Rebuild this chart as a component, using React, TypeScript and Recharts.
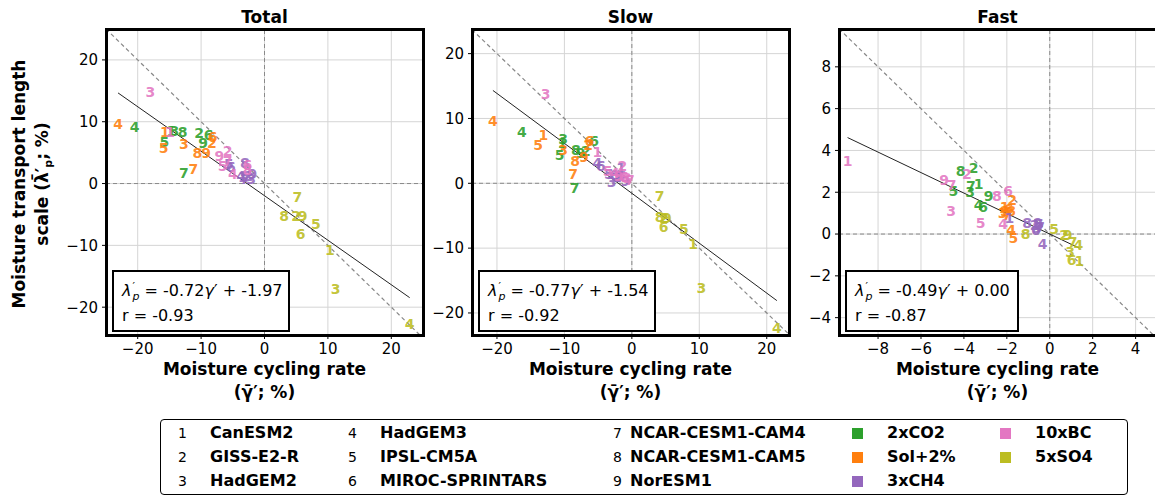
import React from 'react';
import { ScatterChart, Scatter, XAxis, YAxis, CartesianGrid, ReferenceLine } from 'recharts';

type Pt = [number, number];

const models = [
  'CanESM2', 'GISS-E2-R', 'HadGEM2',
  'HadGEM3', 'IPSL-CM5A', 'MIROC-SPRINTARS',
  'NCAR-CESM1-CAM4', 'NCAR-CESM1-CAM5', 'NorESM1',
];

const scenarios = [
  { key: 'co2', name: '2xCO2', color: '#2ca02c' },
  { key: 'sol', name: 'Sol+2%', color: '#ff7f0e' },
  { key: 'ch4', name: '3xCH4', color: '#9467bd' },
  { key: 'bc', name: '10xBC', color: '#e377c2' },
  { key: 'so4', name: '5xSO4', color: '#bcbd22' },
];

// Total: (moisture cycling rate %, transport length %) per model 1..9
const totalCO2: Pt[] = [[-14.7, 8.5], [-10.3, 8.2], [-14.2, 8.5], [-20.5, 9.2], [-15.8, 6.7], [-8.8, 7.9], [-12.7, 1.7], [-12.9, 8.4], [-9.7, 6.6]];
const totalSol: Pt[] = [[-15.7, 8.4], [-8.3, 6.6], [-12.7, 6.4], [-23.1, 9.7], [-15.9, 5.8], [-8.2, 7.6], [-11.2, 2.3], [-10.6, 4.9], [-9.2, 5.0]];
const totalCH4: Pt[] = [[-3.4, 1.0], [-2.6, 1.3], [-2.1, 0.8], [-3.7, 1.3], [-5.6, 3.2], [-5.3, 2.6], [-3.1, 0.7], [-3.1, 3.3], [-1.9, 1.5]];
const totalBC: Pt[] = [[-14.9, 8.3], [-5.8, 5.3], [-18.0, 14.8], [-5.0, 1.6], [-6.6, 2.8], [-2.7, 3.0], [-5.8, 3.6], [-2.7, 2.2], [-7.1, 4.4]];
const totalSO4: Pt[] = [[10.3, -10.7], [5.0, -5.3], [11.2, -17.0], [22.9, -22.8], [8.1, -6.5], [5.7, -8.1], [5.2, -2.1], [3.1, -5.3], [6.0, -5.3]];

const slowCO2: Pt[] = [[-10.3, 6.2], [-6.8, 5.0], [-10.2, 6.8], [-16.3, 7.9], [-10.7, 4.4], [-5.6, 6.5], [-8.5, -0.7], [-8.3, 5.1], [-7.6, 4.6]];
const slowSol: Pt[] = [[-13.1, 7.4], [-6.5, 5.9], [-10.2, 5.2], [-20.6, 9.6], [-13.9, 5.9], [-6.3, 6.6], [-8.7, 1.5], [-8.4, 3.4], [-7.1, 4.0]];
const slowCH4: Pt[] = [[-1.6, 2.4], [-2.2, 1.0], [-3.0, 0.2], [-5.1, 3.2], [-3.4, 1.5], [-4.6, 2.7], [-1.8, 0.9], [-2.5, 1.3], [-1.0, 0.4]];
const slowBC: Pt[] = [[-5.1, 4.8], [-1.4, 2.7], [-12.8, 13.8], [-2.5, 1.6], [-3.6, 1.9], [-1.2, 0.9], [-0.3, 0.5], [-0.8, 0.8], [-2.0, 1.2]];
const slowSO4: Pt[] = [[9.1, -9.3], [4.8, -5.3], [10.3, -16.2], [21.5, -22.3], [7.7, -7.0], [4.7, -6.8], [4.1, -1.9], [4.1, -5.2], [5.2, -5.4]];

const fastCO2: Pt[] = [[-3.32, 2.4], [-3.55, 3.16], [-3.71, 2.03], [-3.32, 1.39], [-4.49, 2.08], [-3.11, 1.31], [-3.68, 2.28], [-4.15, 3.04], [-2.85, 1.83]];
const fastSol: Pt[] = [[-2.1, 1.3], [-1.75, 1.63], [-2.2, 1.0], [-1.8, 0.19], [-1.7, -0.21], [-1.9, 1.2], [-2.0, 0.9], [-1.8, 1.1], [-2.1, 1.1]];
const fastCH4: Pt[] = [[-1.88, 0.79], [-0.7, 0.45], [-0.6, 0.3], [-0.33, -0.48], [-0.5, 0.5], [-0.65, 0.2], [-0.45, 0.35], [-1.05, 0.55], [-0.55, 0.55]];
const fastBC: Pt[] = [[-9.42, 3.48], [-3.86, 2.88], [-4.6, 1.1], [-2.17, 0.46], [-3.22, 0.51], [-1.94, 2.07], [-4.57, 2.36], [-2.46, 1.8], [-4.92, 2.6]];
const fastSO4: Pt[] = [[1.38, -1.28], [0.67, -0.05], [0.95, -0.85], [1.33, -0.53], [0.2, 0.22], [1.02, -1.25], [1.06, -0.4], [-1.13, -0.02], [0.83, -0.05]];

const bigTicks = [-20, -10, 0, 10, 20];
const fastXTicks = [-8, -6, -4, -2, 0, 2, 4];
const fastYTicks = [-4, -2, 0, 2, 4, 6, 8];

const panels = [
  {
    title: 'Total', left: 106, xDomain: [-25, 25], yDomain: [-24.5, 25], xTicks: bigTicks, yTicks: bigTicks,
    series: { co2: totalCO2, sol: totalSol, ch4: totalCH4, bc: totalBC, so4: totalSO4 } as Record<string, Pt[]>,
    slope: -0.72, intercept: -1.97, r: -0.93, boxW: 178,
  },
  {
    title: 'Slow', left: 472, xDomain: [-23.7, 23.3], yDomain: [-23.4, 23.8], xTicks: bigTicks, yTicks: bigTicks,
    series: { co2: slowCO2, sol: slowSol, ch4: slowCH4, bc: slowBC, so4: slowSO4 } as Record<string, Pt[]>,
    slope: -0.77, intercept: -1.54, r: -0.92, boxW: 178,
  },
  {
    title: 'Fast', left: 839, xDomain: [-9.82, 4.95], yDomain: [-4.83, 9.81], xTicks: fastXTicks, yTicks: fastYTicks,
    series: { co2: fastCO2, sol: fastSol, ch4: fastCH4, bc: fastBC, so4: fastSO4 } as Record<string, Pt[]>,
    slope: -0.49, intercept: 0.0, r: -0.87, boxW: 174,
  },
];

const PLOT_W = 317;
const PLOT_H = 306;
const TOP = 29;
const YAXIS_W = 60;
const RIGHT_M = 10;
const XAXIS_H = 40;
const FONT = '"DejaVu Sans", sans-serif';

const fmt = (v: number) => String(v).replace('-', '\u2212');

function Panel({ cfg }: { cfg: (typeof panels)[number] }) {
  const xs = scenarios.flatMap((s) => cfg.series[s.key].map((p) => p[0]));
  const x0 = Math.min(...xs);
  const x1 = Math.max(...xs);
  const [dx0, dx1] = cfg.xDomain;
  return (
    <div style={{ position: 'absolute', left: cfg.left - YAXIS_W, top: 0 }}>
      <ScatterChart
        width={YAXIS_W + PLOT_W + RIGHT_M}
        height={TOP + PLOT_H + XAXIS_H}
        margin={{ top: TOP, right: RIGHT_M, bottom: 0, left: 0 }}
      >
        <CartesianGrid stroke="#d5d5d5" />
        <XAxis
          type="number" dataKey="x" domain={cfg.xDomain} ticks={cfg.xTicks} allowDataOverflow
          height={XAXIS_H} interval={0} tickFormatter={fmt} axisLine={false}
          tick={{ fontSize: 15, fill: '#000', fontFamily: FONT }} tickLine={{ stroke: '#000' }} tickSize={4} tickMargin={4}
        />
        <YAxis
          type="number" dataKey="y" domain={cfg.yDomain} ticks={cfg.yTicks} allowDataOverflow
          width={YAXIS_W} interval={0} tickFormatter={fmt} axisLine={false}
          tick={{ fontSize: 15, fill: '#000', fontFamily: FONT }} tickLine={{ stroke: '#000' }} tickSize={4} tickMargin={4}
        />
        <ReferenceLine x={0} stroke="#8a8a8a" strokeDasharray="4 3" />
        <ReferenceLine y={0} stroke="#8a8a8a" strokeDasharray="4 3" />
        <ReferenceLine
          segment={[{ x: dx0, y: -dx0 }, { x: dx1, y: -dx1 }]}
          stroke="#888" strokeWidth={1.2} strokeDasharray="4 3" ifOverflow="hidden"
        />
        <ReferenceLine
          segment={[
            { x: x0, y: cfg.slope * x0 + cfg.intercept },
            { x: x1, y: cfg.slope * x1 + cfg.intercept },
          ]}
          stroke="#222" strokeWidth={1} ifOverflow="hidden"
        />
        {scenarios.map((s) => (
          <Scatter
            key={s.key}
            name={s.name}
            data={cfg.series[s.key].map((p, i) => ({ x: p[0], y: p[1], m: i + 1 }))}
            isAnimationActive={false}
            shape={(props: any) => (
              <text
                x={props.cx} y={props.cy} textAnchor="middle" dominantBaseline="central"
                fill={s.color} fillOpacity={0.9} fontSize={14} fontWeight="bold" fontFamily={FONT}
              >
                {props.payload.m}
              </text>
            )}
          />
        ))}
      </ScatterChart>
      {/* frame */}
      <div
        style={{
          position: 'absolute', left: YAXIS_W - 1.5, top: TOP - 1.5, width: PLOT_W + 3, height: PLOT_H + 3,
          border: '3px solid #000', boxSizing: 'border-box', pointerEvents: 'none',
        }}
      />
      <div
        style={{
          position: 'absolute', left: YAXIS_W, width: PLOT_W, top: 7, textAlign: 'center',
          fontWeight: 'bold', fontSize: 17,
        }}
      >
        {cfg.title}
      </div>
      <div
        style={{
          position: 'absolute', left: YAXIS_W + 6, top: 270, width: cfg.boxW, height: 62,
          border: '2px solid #000', boxSizing: 'border-box', background: '#fff', fontSize: 16,
          padding: '6px 0 0 8px', lineHeight: '25px',
        }}
      >
        <div>
          <i>λ</i>
          <span style={{ display: 'inline-block', verticalAlign: 'middle', fontSize: 11, lineHeight: '10px', fontStyle: 'italic', marginLeft: 1 }}>
            <span style={{ display: 'block', fontStyle: 'normal' }}>′</span>
            <span style={{ display: 'block' }}>p</span>
          </span>
          {' '}= {cfg.slope.toFixed(2)}<i>γ</i>′ + {cfg.intercept.toFixed(2)}
        </div>
        <div>r = {cfg.r.toFixed(2)}</div>
      </div>
      <div
        style={{
          position: 'absolute', left: YAXIS_W - 40, width: PLOT_W + 80, top: 358, textAlign: 'center',
          fontWeight: 'bold', fontSize: 17, lineHeight: '23px',
        }}
      >
        <div>Moisture cycling rate</div>
        <div>(γ̄′; %)</div>
      </div>
    </div>
  );
}

export default function App() {
  const cols = [
    { numX: 178, nameX: 210 },
    { numX: 348, nameX: 380 },
    { numX: 613, nameX: 630 },
  ];
  const rowY = [424, 448, 472];
  return (
    <div
      style={{
        position: 'absolute', left: 0, top: 0, width: 1155, height: 496, overflow: 'hidden',
        background: '#fff', fontFamily: FONT, color: '#000',
      }}
    >
      {panels.map((p) => (
        <Panel key={p.title} cfg={p} />
      ))}
      <div style={{ position: 'absolute', left: 8, top: 184, width: 0, height: 0 }}>
        <div
          style={{
            position: 'absolute', left: 0, top: 0, width: 320, transform: 'translate(-160px, 0) rotate(-90deg)',
            transformOrigin: '160px 0', textAlign: 'center', fontWeight: 'bold', fontSize: 17, lineHeight: '23px',
          }}
        >
          <div>Moisture transport length</div>
          <div>scale (λ̄′<sub style={{ fontSize: 11 }}>p</sub>; %)</div>
        </div>
      </div>
      <div
        style={{
          position: 'absolute', left: 160, top: 419, width: 968, height: 76,
          border: '1.5px solid #000', borderRadius: 4, boxSizing: 'border-box',
        }}
      />
      {models.map((m, i) => {
        const c = cols[Math.floor(i / 3)];
        const y = rowY[i % 3];
        return (
          <React.Fragment key={m}>
            <div style={{ position: 'absolute', left: c.numX, top: y, fontSize: 14, lineHeight: '18px' }}>{i + 1}</div>
            <div style={{ position: 'absolute', left: c.nameX, top: y - 1, fontSize: 16, fontWeight: 'bold', lineHeight: '20px' }}>{m}</div>
          </React.Fragment>
        );
      })}
      {scenarios.map((s, i) => {
        const col = i < 3 ? 0 : 1;
        const row = i < 3 ? i : i - 3;
        const sx = col === 0 ? 852 : 1000;
        const y = rowY[row];
        return (
          <React.Fragment key={s.key}>
            <div style={{ position: 'absolute', left: sx, top: y + 4, width: 11, height: 11, background: s.color }} />
            <div style={{ position: 'absolute', left: sx + 35, top: y - 1, fontSize: 16, fontWeight: 'bold', lineHeight: '20px' }}>{s.name}</div>
          </React.Fragment>
        );
      })}
    </div>
  );
}
